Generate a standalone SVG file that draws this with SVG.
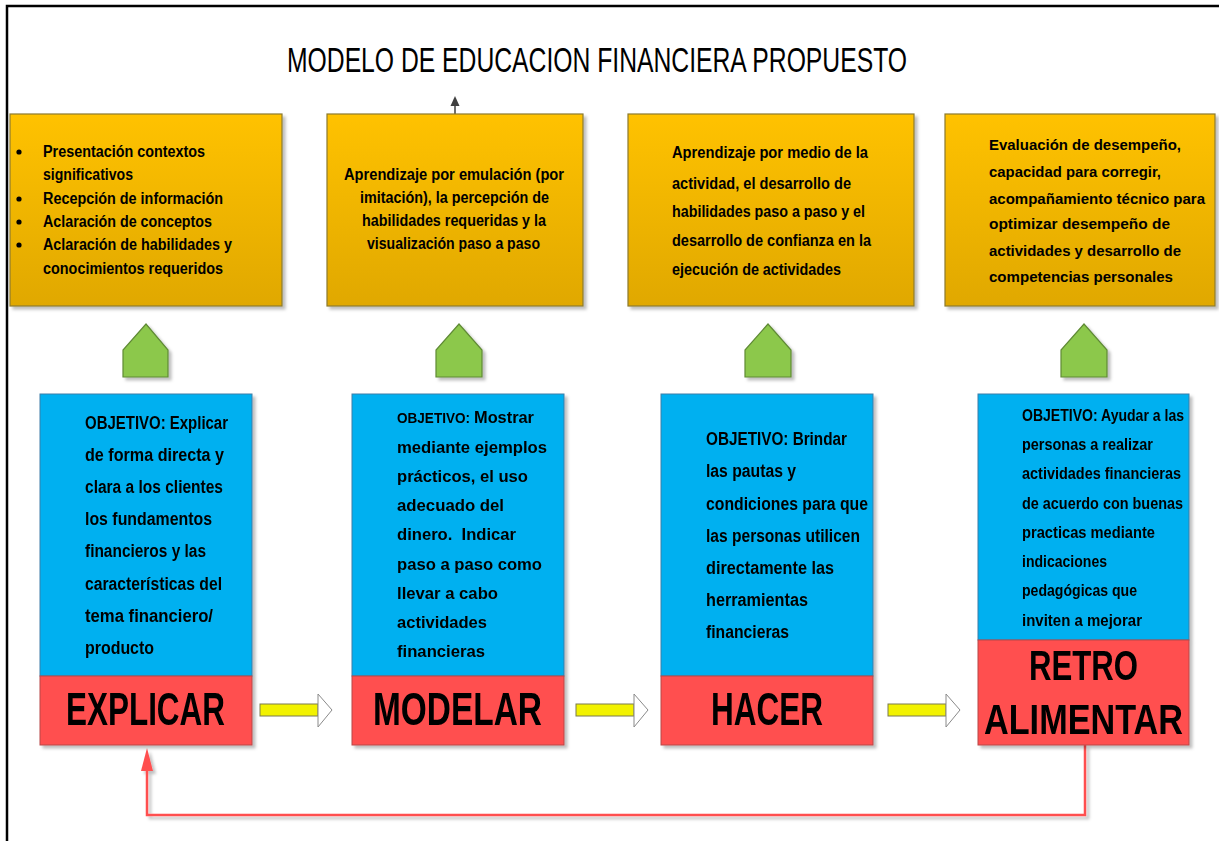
<svg xmlns="http://www.w3.org/2000/svg" width="1219" height="841" viewBox="0 0 1219 841">
<defs>
<linearGradient id="og" x1="0" y1="0" x2="0" y2="1">
<stop offset="0" stop-color="#FFC200"/>
<stop offset="1" stop-color="#E0A800"/>
</linearGradient>
<filter id="sh" x="-10%" y="-10%" width="130%" height="130%">
<feDropShadow dx="3" dy="3" stdDeviation="1.5" flood-color="#000" flood-opacity="0.25"/>
</filter>
</defs>
<style>
.t{font-family:"Liberation Sans Narrow","Liberation Sans",Arial,sans-serif;font-weight:bold;fill:#000}
.a{font-family:"Liberation Sans",Arial,sans-serif;font-weight:bold;fill:#000}
.org{fill:url(#og);stroke:#8C7A2E;stroke-width:1.2;filter:url(#sh)}
.blu{fill:#00B0F0;stroke:#3F7FA8;stroke-width:1}
.red{fill:#FF5050;stroke:#B84848;stroke-width:1}
.grn{fill:#8CC84B;stroke:#5F8A35;stroke-width:1.2;filter:url(#sh)}
.yb{fill:#F2F200;stroke:#7A7A50;stroke-width:1}
.yh{fill:#FFFFFF;stroke:#8A8A8A;stroke-width:1}
.o{font-size:16px}
.b{font-size:17.5px}
.big{font-size:46px}
</style>
<rect x="0" y="0" width="1219" height="841" fill="#FFFFFF"/>
<path d="M7 850 L7 6 L1230 6" fill="none" stroke="#000" stroke-width="2.5"/>
<text x="287" y="72" font-family="'Liberation Sans Narrow','Liberation Sans',sans-serif" font-size="35" textLength="620" lengthAdjust="spacingAndGlyphs" fill="#000">MODELO DE EDUCACION FINANCIERA PROPUESTO</text>

<g id="connectors">
<line x1="455" y1="114" x2="455" y2="104" stroke="#404040" stroke-width="1.5"/>
<path d="M455 96 L459.5 106 L450.5 106 Z" fill="#404040"/>
<g id="arrow1"><rect class="yb" x="260" y="704" width="58" height="12"/><path class="yh" d="M318 694 L332 710 L318 727 Z"/></g>
<g id="arrow2"><rect class="yb" x="576" y="704" width="58" height="12"/><path class="yh" d="M634 694 L648 710 L634 727 Z"/></g>
<g id="arrow3"><rect class="yb" x="888" y="704" width="58" height="12"/><path class="yh" d="M946 694 L960 710 L946 727 Z"/></g>
<g id="feedback" filter="url(#sh)">
<path d="M1085 745 L1085 815 L147 815 L147 768" fill="none" stroke="#FF5050" stroke-width="2.5"/>
<path d="M147 748 L153 771 L141 771 Z" fill="#FF5050"/>
</g>
<g id="up1"><path class="grn" d="M123 377 L123 350 L146 324 L168 350 L168 377 Z"/></g>
<g id="up2"><path class="grn" d="M436 377 L436 350 L459 324 L482 350 L482 377 Z"/></g>
<g id="up3"><path class="grn" d="M745 377 L745 350 L768 324 L791 350 L791 377 Z"/></g>
<g id="up4"><path class="grn" d="M1061 377 L1061 350 L1084 324 L1107 350 L1107 377 Z"/></g>
</g>

<g id="info1">
<rect class="org" x="10" y="114" width="272" height="192"/>
<g class="t o">
<circle cx="19" cy="152" r="2.6"/><circle cx="19" cy="199" r="2.6"/><circle cx="19" cy="222" r="2.6"/><circle cx="19" cy="245" r="2.6"/>
<text x="43" y="157" textLength="162" lengthAdjust="spacingAndGlyphs">Presentación contextos</text>
<text x="43" y="180" textLength="90" lengthAdjust="spacingAndGlyphs">significativos</text>
<text x="43" y="204" textLength="180" lengthAdjust="spacingAndGlyphs">Recepción de información</text>
<text x="43" y="227" textLength="169" lengthAdjust="spacingAndGlyphs">Aclaración de conceptos</text>
<text x="43" y="250" textLength="189" lengthAdjust="spacingAndGlyphs">Aclaración de habilidades y</text>
<text x="43" y="274" textLength="180" lengthAdjust="spacingAndGlyphs">conocimientos requeridos</text>
</g>
</g>

<g id="info2">
<rect class="org" x="327" y="114" width="256" height="192"/>
<g class="t o">
<text x="344" y="180" textLength="220" lengthAdjust="spacingAndGlyphs">Aprendizaje por emulación (por</text>
<text x="360" y="203" textLength="189" lengthAdjust="spacingAndGlyphs">imitación), la percepción de</text>
<text x="362" y="226" textLength="184" lengthAdjust="spacingAndGlyphs">habilidades requeridas y la</text>
<text x="367" y="249" textLength="173" lengthAdjust="spacingAndGlyphs">visualización paso a paso</text>
</g>
</g>

<g id="info3">
<rect class="org" x="628" y="114" width="286" height="192"/>
<g class="t o">
<text x="672" y="158" textLength="196" lengthAdjust="spacingAndGlyphs">Aprendizaje por medio de la</text>
<text x="672" y="189" textLength="179" lengthAdjust="spacingAndGlyphs">actividad, el desarrollo de</text>
<text x="672" y="217" textLength="193" lengthAdjust="spacingAndGlyphs">habilidades paso a paso y el</text>
<text x="672" y="246" textLength="199" lengthAdjust="spacingAndGlyphs">desarrollo de confianza en la</text>
<text x="672" y="275" textLength="169" lengthAdjust="spacingAndGlyphs">ejecución de actividades</text>
</g>
</g>

<g id="info4">
<rect class="org" x="945" y="114" width="270" height="192"/>
<g class="a" font-size="15">
<text x="989" y="150" textLength="192" lengthAdjust="spacingAndGlyphs">Evaluación de desempeño,</text>
<text x="989" y="177" textLength="172" lengthAdjust="spacingAndGlyphs">capacidad para corregir,</text>
<text x="989" y="204" textLength="216" lengthAdjust="spacingAndGlyphs">acompañamiento técnico para</text>
<text x="989" y="229" textLength="181" lengthAdjust="spacingAndGlyphs">optimizar desempeño de</text>
<text x="989" y="256" textLength="192" lengthAdjust="spacingAndGlyphs">actividades y desarrollo de</text>
<text x="989" y="282" textLength="184" lengthAdjust="spacingAndGlyphs">competencias personales</text>
</g>
</g>

<g id="explicar" filter="url(#sh)">
<rect class="blu" x="40" y="394" width="212" height="282"/>
<rect class="red" x="40" y="676" width="212" height="69"/>
<g class="t b">
<text x="85" y="429" textLength="143" lengthAdjust="spacingAndGlyphs">OBJETIVO: Explicar</text>
<text x="85" y="461" textLength="139" lengthAdjust="spacingAndGlyphs">de forma directa y</text>
<text x="85" y="493" textLength="138" lengthAdjust="spacingAndGlyphs">clara a los clientes</text>
<text x="85" y="525" textLength="127" lengthAdjust="spacingAndGlyphs">los fundamentos</text>
<text x="85" y="557" textLength="121" lengthAdjust="spacingAndGlyphs">financieros y las</text>
<text x="85" y="590" textLength="137" lengthAdjust="spacingAndGlyphs">características del</text>
<text x="85" y="622" textLength="128" lengthAdjust="spacingAndGlyphs">tema financiero/</text>
<text x="85" y="654" textLength="69" lengthAdjust="spacingAndGlyphs">producto</text>
</g>
<text class="t big" x="66" y="725" textLength="159" lengthAdjust="spacingAndGlyphs">EXPLICAR</text>
</g>

<g id="modelar" filter="url(#sh)">
<rect class="blu" x="352" y="394" width="212" height="282"/>
<rect class="red" x="352" y="676" width="212" height="69"/>
<text class="t" font-size="15" x="397" y="423" textLength="73" lengthAdjust="spacingAndGlyphs">OBJETIVO:</text>
<g class="a" font-size="17">
<text x="474" y="423" textLength="60" lengthAdjust="spacingAndGlyphs">Mostrar</text>
<text x="397" y="453" textLength="150" lengthAdjust="spacingAndGlyphs">mediante ejemplos</text>
<text x="397" y="482" textLength="131" lengthAdjust="spacingAndGlyphs">prácticos, el uso</text>
<text x="397" y="511" textLength="107" lengthAdjust="spacingAndGlyphs">adecuado del</text>
<text x="397" y="540" textLength="119" lengthAdjust="spacingAndGlyphs" xml:space="preserve">dinero.  Indicar</text>
<text x="397" y="570" textLength="145" lengthAdjust="spacingAndGlyphs">paso a paso como</text>
<text x="397" y="599" textLength="101" lengthAdjust="spacingAndGlyphs">llevar a cabo</text>
<text x="397" y="628" textLength="90" lengthAdjust="spacingAndGlyphs">actividades</text>
<text x="397" y="657" textLength="88" lengthAdjust="spacingAndGlyphs">financieras</text>
</g>
<text class="t big" x="373" y="725" textLength="169" lengthAdjust="spacingAndGlyphs">MODELAR</text>
</g>

<g id="hacer" filter="url(#sh)">
<rect class="blu" x="661" y="394" width="212" height="282"/>
<rect class="red" x="661" y="676" width="212" height="69"/>
<g class="t b">
<text x="706" y="445" textLength="141" lengthAdjust="spacingAndGlyphs">OBJETIVO: Brindar</text>
<text x="706" y="477" textLength="90" lengthAdjust="spacingAndGlyphs">las pautas y</text>
<text x="706" y="510" textLength="162" lengthAdjust="spacingAndGlyphs">condiciones para que</text>
<text x="706" y="542" textLength="154" lengthAdjust="spacingAndGlyphs">las personas utilicen</text>
<text x="706" y="574" textLength="128" lengthAdjust="spacingAndGlyphs">directamente las</text>
<text x="706" y="606" textLength="102" lengthAdjust="spacingAndGlyphs">herramientas</text>
<text x="706" y="638" textLength="83" lengthAdjust="spacingAndGlyphs">financieras</text>
</g>
<text class="t big" x="711" y="725" textLength="112" lengthAdjust="spacingAndGlyphs">HACER</text>
</g>

<g id="retroalimentar" filter="url(#sh)">
<rect class="blu" x="978" y="394" width="211" height="246"/>
<rect class="red" x="978" y="640" width="211" height="105"/>
<g class="t" font-size="16.5">
<text x="1022" y="421" textLength="162" lengthAdjust="spacingAndGlyphs">OBJETIVO: Ayudar a las</text>
<text x="1022" y="450" textLength="131" lengthAdjust="spacingAndGlyphs">personas a realizar</text>
<text x="1022" y="479" textLength="159" lengthAdjust="spacingAndGlyphs">actividades financieras</text>
<text x="1022" y="509" textLength="161" lengthAdjust="spacingAndGlyphs">de acuerdo con buenas</text>
<text x="1022" y="538" textLength="133" lengthAdjust="spacingAndGlyphs">practicas mediante</text>
<text x="1022" y="567" textLength="85" lengthAdjust="spacingAndGlyphs">indicaciones</text>
<text x="1022" y="596" textLength="115" lengthAdjust="spacingAndGlyphs">pedagógicas que</text>
<text x="1022" y="626" textLength="120" lengthAdjust="spacingAndGlyphs">inviten a mejorar</text>
</g>
<text class="t" font-size="43" x="1029" y="680" textLength="109" lengthAdjust="spacingAndGlyphs">RETRO</text>
<text class="t" font-size="43" x="984" y="734" textLength="199" lengthAdjust="spacingAndGlyphs">ALIMENTAR</text>
</g>
</svg>
